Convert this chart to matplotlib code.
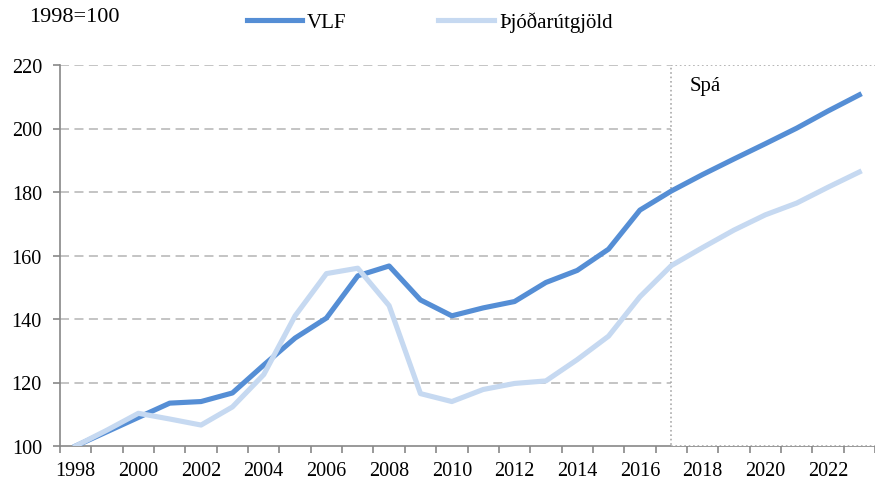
import matplotlib
matplotlib.use('Agg')
import matplotlib.pyplot as plt
from matplotlib.patches import Rectangle
import numpy as np

# gögn, 1998=100
years = list(range(1998, 2024))
vlf = [100, 104.5, 109, 113.5, 114, 116.7, 125.5, 134, 140.3, 153.6, 156.7, 146, 141,
       143.5, 145.5, 151.5, 155.3, 162, 174.3, 180.3, 185.5, 190.4, 195.2, 200.1, 205.5, 210.6]
thjod = [100, 105, 110.3, 108.5, 106.6, 112.3, 122.5, 141, 154.3, 156, 144.2, 116.5, 114,
         117.8, 119.7, 120.5, 127.2, 134.6, 147, 156.8, 162.5, 168, 172.8, 176.5, 181.5, 186.3]
forecast_start = 2017
ytick_vals = [100, 120, 140, 160, 180, 200, 220]

plt.rcParams['font.family'] = ['Liberation Serif', 'DejaVu Serif']

fig = plt.figure(figsize=(8.75, 4.85), dpi=100)
ax = fig.add_axes([60/875, 1-447/485, 1-60/875, (447-66)/485])

x = np.arange(len(years))
ax.plot(x, vlf, color='#558ED5', lw=3.7, label='VLF', solid_joinstyle='round', zorder=3)
ax.plot(x, thjod, color='#C6D9F1', lw=3.7, label='Þjóðarútgjöld', solid_joinstyle='round', zorder=4)

ax.set_ylim(100, 220)
ax.set_xlim(-0.5, 25.23)
ax.set_yticks(ytick_vals)
ax.set_xticks(x[::2])
ax.set_xticklabels([str(y) for y in years[::2]])
ax.set_xticks(np.arange(-0.5, len(years), 1), minor=True)
ax.tick_params(axis='x', which='major', length=0, pad=11, labelsize=14.5)
ax.tick_params(axis='x', which='minor', length=5, color='#888888', width=1.2)
ax.tick_params(axis='y', length=5, color='#888888', width=1.2, labelsize=14.5, pad=8)

for v in ytick_vals[1:]:
    ax.axhline(v, color='#BFBFBF', lw=1.3, ls=(0, (5, 3)), zorder=1)

for s in ['top', 'right']:
    ax.spines[s].set_visible(False)
for s in ['left', 'bottom']:
    ax.spines[s].set_color('#888888')
    ax.spines[s].set_linewidth(1.2)

# spátímabil
fx = years.index(forecast_start)
ax.add_patch(Rectangle((fx, 100), 30, 120, fill=True, facecolor='white', edgecolor='#AAAAAA',
                       ls=':', lw=1.2, zorder=2, clip_on=True))
ax.spines['bottom'].set_zorder(1)
ax.text(fx + 0.58, 213.4, 'Spá', fontsize=15, va='center', ha='left')

fig.text(29/875, 1-17/485, '1998=100', fontsize=16, va='center', ha='left')
fig.legend(loc='center', bbox_to_anchor=(0.491, 1-23/485), ncol=2, frameon=False,
           fontsize=15, handlelength=2.65, columnspacing=4.4, handletextpad=0.25)

plt.savefig('out.png', dpi=100)
